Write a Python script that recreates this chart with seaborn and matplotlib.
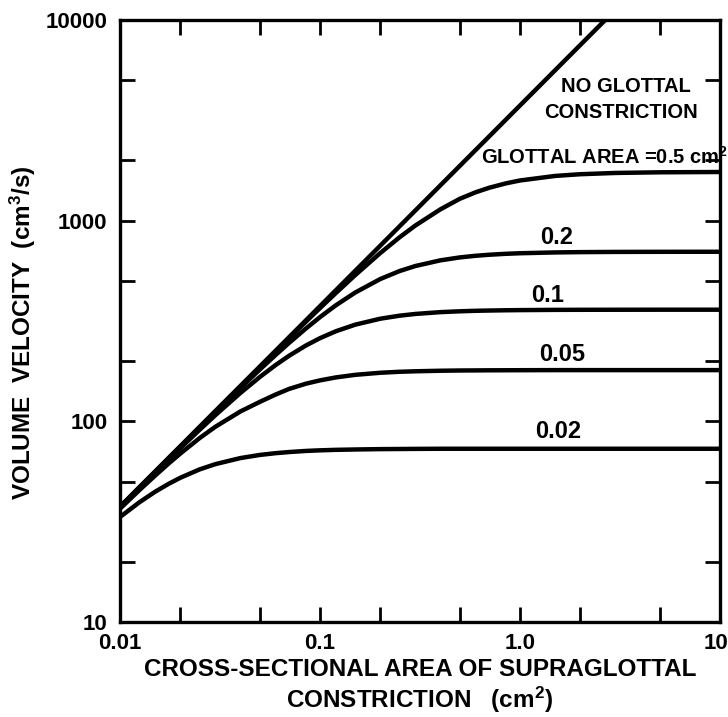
import matplotlib
matplotlib.use("Agg")
import matplotlib.pyplot as plt
import matplotlib.ticker as mticker
import matplotlib.transforms as mtransforms
import seaborn as sns
import pandas as pd

# ---- data ----
area = [0.01, 0.0125, 0.015, 0.0175, 0.02, 0.025, 0.03, 0.04, 0.05, 0.06, 0.07, 0.085,
        0.1, 0.12, 0.15, 0.2, 0.25, 0.3, 0.4, 0.5, 0.6, 0.7, 0.85, 1.0, 1.5, 2.0, 3.0, 5.0, 10.0]

no_constr_x = [0.01, 0.1, 1.0, 3.0]
no_constr_y = [37.5, 375, 3750, 11250]

glottal_05 = [37.5, 46.9, 56.2, 65.6, 74.9, 93.6, 112.3, 149.4, 186.4, 223.2, 259.6, 313.6,
              366.7, 435.8, 535.5, 689.3, 826.4, 946.3, 1139, 1285, 1385, 1458, 1534,
              1586, 1671, 1704, 1729, 1742, 1748]
glottal_02 = [37.45, 46.8, 56.1, 65.3, 74.6, 92.9, 111.1, 146.7, 181.1, 214.2, 245.8, 290.1,
              330.6, 378.6, 438.4, 511.7, 560.9, 594.4, 634.3, 655.9, 668.4, 676.3, 683.7,
              688.1, 694.6, 697.0, 698.7, 699.5, 700]
glottal_01 = [37.3, 46.5, 55.6, 64.5, 73.4, 90.7, 107.4, 138.5, 166.3, 190.8, 212.1, 238.7,
              259.7, 281.1, 303.2, 324.6, 336.1, 342.9, 350.1, 353.5, 355.5, 356.6, 357.7,
              358.3, 359.3, 359.6, 359.8, 360, 360]
glottal_005 = [36.7, 45.4, 53.7, 61.6, 69.0, 82.5, 94.0, 112.0, 125.0, 136.0, 145.0, 154.0,
               160.0, 165.5, 170.5, 174.6, 176.6, 177.6, 178.7, 179.2, 179.4, 179.6, 179.7,
               179.8, 180, 180, 180, 180, 180]
glottal_002 = [33.35, 39.5, 44.6, 48.8, 52.3, 57.6, 61.2, 65.6, 68.0, 69.4, 70.3, 71.2,
               71.7, 72.1, 72.4, 72.7, 72.8, 72.9, 73, 73, 73, 73, 73, 73, 73, 73, 73, 73, 73]

series_names = ["0.5", "0.2", "0.1", "0.05", "0.02"]
series_vals = [glottal_05, glottal_02, glottal_01, glottal_005, glottal_002]
curve_labels = ["0.2", "0.1", "0.05", "0.02"]

x_ticks = [0.01, 0.1, 1.0, 10]
x_ticklabels = ["0.01", "0.1", "1.0", "10"]
y_ticks = [10, 100, 1000, 10000]
y_ticklabels = ["10", "100", "1000", "10000"]

# ---- plot ----
sns.set_style("ticks")
plt.rcParams["font.family"] = ["Liberation Sans", "DejaVu Sans"]
plt.rcParams["font.weight"] = "bold"
plt.rcParams["mathtext.default"] = "regular"
for k in ("text.color", "axes.labelcolor", "xtick.color", "ytick.color", "axes.edgecolor"):
    plt.rcParams[k] = "black"

fig = plt.figure(figsize=(7.28, 7.17), dpi=100)
ax = fig.add_axes([120 / 728, 1 - 622 / 717, 600 / 728, 602 / 717])

lw = 3.2
sns.lineplot(x=no_constr_x, y=no_constr_y, ax=ax, color="black", linewidth=lw)
rows = []
for name, vals in zip(series_names, series_vals):
    for a, v in zip(area, vals):
        rows.append({"area": a, "U": v, "glottal": name})
df = pd.DataFrame(rows)
sns.lineplot(data=df, x="area", y="U", units="glottal", estimator=None,
             ax=ax, color="black", linewidth=lw, legend=False)

ax.set_xscale("log")
ax.set_yscale("log")
ax.set_xlim(0.01, 10)
ax.set_ylim(10, 10000)

ax.xaxis.set_major_locator(mticker.FixedLocator(x_ticks))
ax.xaxis.set_major_formatter(mticker.FixedFormatter(x_ticklabels))
ax.yaxis.set_major_locator(mticker.FixedLocator(y_ticks))
ax.yaxis.set_major_formatter(mticker.FixedFormatter(y_ticklabels))
ax.xaxis.set_minor_locator(mticker.LogLocator(base=10, subs=[2, 5]))
ax.yaxis.set_minor_locator(mticker.LogLocator(base=10, subs=[2, 5]))
ax.xaxis.set_minor_formatter(mticker.NullFormatter())
ax.yaxis.set_minor_formatter(mticker.NullFormatter())

for which in ("major", "minor"):
    ax.tick_params(which=which, direction="in", length=10.5, width=2.0,
                   top=True, right=True, bottom=True, left=True,
                   labelsize=16, color="black")
ax.tick_params(axis="x", which="major", pad=8)
ax.tick_params(axis="y", which="major", pad=9)
for lab in ax.get_xticklabels() + ax.get_yticklabels():
    lab.set_fontweight("bold")
# keep the last x label inside the canvas
fig.canvas.draw()
xl = ax.get_xticklabels()
xl[-1].set_transform(xl[-1].get_transform() +
                     mtransforms.ScaledTranslation(-4 / 100, 0, fig.dpi_scale_trans))

for sp in ax.spines.values():
    sp.set_linewidth(2.4)
    sp.set_color("black")
    sp.set_visible(True)

ax.set_xlabel("CROSS-SECTIONAL AREA OF SUPRAGLOTTAL\nCONSTRICTION   (cm$^2$)",
              fontsize=17.5, fontweight="bold", labelpad=3, linespacing=1.15)
ax.set_ylabel("VOLUME  VELOCITY  (cm$^3$/s)", fontsize=17.5, fontweight="bold")
ax.yaxis.set_label_coords(-0.137, 0.48)

tk = dict(transform=ax.transAxes, ha="center", va="center", fontsize=14.5,
          fontweight="bold", color="black")
ax.text(0.843, 0.889, "NO GLOTTAL", **tk)
ax.text(0.835, 0.847, "CONSTRICTION", **tk)
ax.text(0.808, 0.773, "GLOTTAL AREA =0.5 cm$^2$", **tk)
tk2 = dict(tk, fontsize=17)
pos = [(0.728, 0.638), (0.712, 0.543), (0.737, 0.444), (0.730, 0.316)]
for lab, (px, py) in zip(curve_labels, pos):
    ax.text(px, py, lab, **tk2)

fig.savefig("out.png", dpi=100)
